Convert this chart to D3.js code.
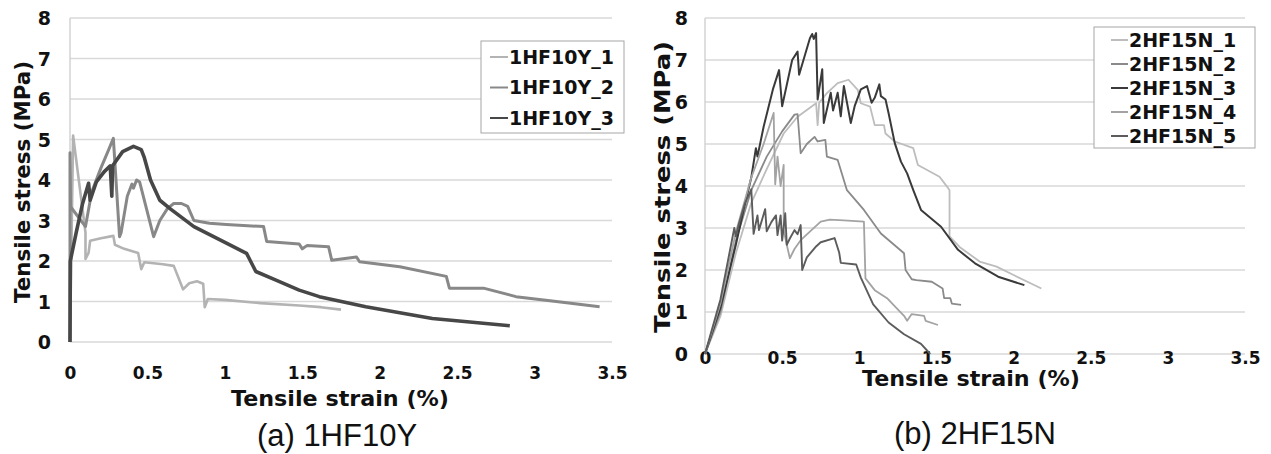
<!DOCTYPE html>
<html>
<head>
<meta charset="utf-8">
<script src="https://cdn.jsdelivr.net/npm/d3@7/dist/d3.min.js"></script>
<style>
  body { margin: 0; background: #fff; }
  svg { display: block; }
  .tick text { font-family: "DejaVu Sans", Verdana, sans-serif; font-weight: bold; fill: #111; }
</style>
</head>
<body>
<svg id="chart" width="1271" height="454"></svg>
<script>
// ---- data: [strain (%), stress (MPa)] ----
var xTicks = [0, 0.5, 1, 1.5, 2, 2.5, 3, 3.5];
var yTicks = [0, 1, 2, 3, 4, 5, 6, 7, 8];

var namesA = ["1HF10Y_1", "1HF10Y_2", "1HF10Y_3"];
var hf10y_1 = [[0,0],[0.02,5.1],[0.07,3.6],[0.1,2.7],[0.1,2.05],[0.12,2.2],[0.13,2.5],[0.2,2.56],[0.28,2.62],[0.29,2.4],[0.35,2.3],
  [0.44,2.2],[0.46,1.8],[0.48,1.97],[0.6,1.92],[0.67,1.88],[0.73,1.3],[0.77,1.45],[0.82,1.5],[0.86,1.44],[0.87,0.86],[0.89,1.06],
  [1.0,1.04],[1.23,0.96],[1.48,0.9],[1.62,0.86],[1.75,0.8]];
var hf10y_2 = [[0,0],[0,4.67],[0.004,3.34],[0.1,2.85],[0.14,3.7],[0.2,4.3],[0.25,4.75],[0.28,5.03],[0.32,2.6],[0.33,2.7],[0.37,3.6],
  [0.4,3.9],[0.41,3.8],[0.43,4.0],[0.45,3.95],[0.54,2.6],[0.58,3.0],[0.63,3.3],[0.67,3.42],[0.72,3.42],[0.76,3.35],[0.8,3.0],
  [0.9,2.93],[1.01,2.9],[1.25,2.85],[1.27,2.48],[1.48,2.42],[1.5,2.3],[1.53,2.38],[1.67,2.35],[1.69,2.02],[1.85,2.1],[1.87,1.98],
  [2.13,1.86],[2.43,1.62],[2.45,1.33],[2.67,1.33],[2.88,1.12],[3.1,1.02],[3.42,0.87]];
var hf10y_3 = [[0,0],[0.002,2.0],[0.04,2.7],[0.08,3.4],[0.12,3.92],[0.13,3.5],[0.17,3.95],[0.22,4.2],[0.26,4.35],[0.27,3.6],
  [0.275,4.35],[0.34,4.7],[0.41,4.83],[0.46,4.75],[0.48,4.55],[0.52,4.0],[0.58,3.5],[0.65,3.28],[0.8,2.85],[1.01,2.44],[1.14,2.19],
  [1.2,1.74],[1.33,1.53],[1.48,1.28],[1.61,1.12],[1.91,0.87],[2.34,0.58],[2.84,0.4]];

var namesB = ["2HF15N_1", "2HF15N_2", "2HF15N_3", "2HF15N_4", "2HF15N_5"];
var hf15n_1 = [[0,0],[0.1,0.9],[0.2,2.4],[0.3,3.6],[0.4,4.4],[0.51,5.25],[0.6,5.65],[0.72,5.97],[0.73,5.45],[0.74,5.98],[0.79,6.21],
  [0.86,6.45],[0.93,6.53],[0.99,6.29],[1.01,5.97],[1.07,5.89],[1.1,5.45],[1.16,5.45],[1.17,5.25],[1.23,5.06],[1.35,4.9],[1.38,4.5],
  [1.52,4.22],[1.57,3.98],[1.585,3.9],[1.585,2.8],[1.65,2.55],[1.78,2.2],[1.89,2.08],[2.0,1.88],[2.18,1.56]];
var hf15n_2 = [[0,0],[0.1,1.0],[0.2,2.7],[0.3,3.9],[0.4,4.7],[0.5,5.3],[0.58,5.7],[0.6,5.71],[0.62,4.78],[0.66,5.0],[0.71,5.17],
  [0.73,5.06],[0.78,5.1],[0.79,4.7],[0.86,4.62],[0.92,3.9],[1.03,3.43],[1.14,2.87],[1.29,2.4],[1.3,2.0],[1.34,1.78],[1.37,1.76],
  [1.47,1.72],[1.54,1.56],[1.55,1.33],[1.59,1.33],[1.6,1.2],[1.66,1.17]];
var hf15n_3 = [[0,0],[0.1,1.1],[0.2,2.6],[0.25,3.43],[0.3,4.2],[0.33,4.9],[0.34,4.7],[0.38,5.41],[0.44,6.3],[0.48,6.76],[0.5,5.9],
  [0.565,7.0],[0.6,7.2],[0.61,6.65],[0.68,7.52],[0.695,7.62],[0.705,7.5],[0.72,7.64],[0.73,6.06],[0.76,6.78],[0.77,5.5],[0.815,6.22],
  [0.83,5.8],[0.86,6.22],[0.88,5.66],[0.9,6.38],[0.945,5.5],[0.97,5.9],[1.01,6.3],[1.05,6.38],[1.08,5.98],[1.1,6.1],[1.13,6.42],
  [1.14,6.14],[1.17,6.06],[1.19,5.73],[1.23,5.02],[1.27,4.58],[1.31,4.3],[1.35,3.9],[1.4,3.43],[1.53,3.03],[1.64,2.48],[1.75,2.16],
  [1.9,1.84],[2.07,1.64]];
var hf15n_4 = [[0,0],[0.1,1.2],[0.2,2.9],[0.3,4.2],[0.38,5.0],[0.445,5.74],[0.455,4.04],[0.47,4.7],[0.49,4.0],[0.51,4.5],[0.51,2.95],
  [0.53,2.6],[0.55,2.28],[0.58,2.5],[0.62,2.71],[0.75,3.15],[0.81,3.2],[0.9,3.18],[1.03,3.15],[1.04,1.8],[1.1,1.52],[1.18,1.33],
  [1.24,1.1],[1.29,0.91],[1.31,0.79],[1.34,0.95],[1.42,0.91],[1.43,0.79],[1.51,0.69]];
var hf15n_5 = [[0,0],[0.1,1.3],[0.19,3.0],[0.2,2.8],[0.22,3.1],[0.26,3.6],[0.3,3.92],[0.315,2.86],[0.34,3.3],[0.35,2.95],[0.39,3.45],
  [0.4,2.92],[0.43,3.14],[0.46,3.3],[0.47,2.83],[0.49,3.3],[0.5,2.7],[0.52,3.35],[0.53,2.6],[0.55,2.75],[0.58,2.95],[0.6,2.85],
  [0.62,3.07],[0.63,2.0],[0.66,2.3],[0.72,2.56],[0.75,2.66],[0.84,2.76],[0.87,2.41],[0.88,2.17],[0.98,2.13],[1.01,1.82],[1.09,1.18],
  [1.19,0.75],[1.29,0.47],[1.4,0.24],[1.46,0]];

var svg = d3.select("#chart");

function drawPanel(p) {
    var x = d3.scaleLinear().domain([0, 3.5]).range([p.left, p.right]);
    var y = d3.scaleLinear().domain([0, 8]).range([p.bottom, p.top]);
    var g = svg.append("g");

    // gridlines
    g.selectAll(".grid").data(yTicks).enter().append("line")
        .attr("x1", p.left).attr("x2", p.right)
        .attr("y1", function(d) { return y(d); })
        .attr("y2", function(d) { return y(d); })
        .attr("stroke", "#d9d9d9").attr("stroke-width", 1.4);
    g.append("line")
        .attr("x1", p.left).attr("x2", p.left)
        .attr("y1", p.top).attr("y2", p.bottom)
        .attr("stroke", "#d0d0d0").attr("stroke-width", 1.4);

    // axes (labels only)
    var ax = g.append("g").attr("transform", "translate(0," + p.xLabelY + ")")
        .call(d3.axisBottom(x).tickValues(xTicks).tickSize(0).tickFormat(function(d) { return d; }));
    ax.select(".domain").remove();
    ax.selectAll("text").attr("font-size", 17).attr("dy", 0);

    var ay = g.append("g").attr("transform", "translate(" + p.yLabelX + ",0)")
        .call(d3.axisLeft(y).tickValues(yTicks).tickSize(0));
    ay.select(".domain").remove();
    ay.selectAll("text").attr("font-size", 19).attr("dy", "0.36em").attr("x", 0);

    // series
    var line = d3.line().x(function(d) { return x(d[0]); }).y(function(d) { return y(d[1]); });
    p.series.forEach(function(s, i) {
        g.append("path").datum(s)
            .attr("d", line)
            .attr("fill", "none")
            .attr("stroke", p.colors[i])
            .attr("stroke-width", p.widths[i])
            .attr("stroke-linejoin", "round");
    });

    // axis titles
    g.append("text")
        .attr("x", (p.xTitle[0])).attr("y", p.xTitle[1])
        .attr("text-anchor", "middle")
        .attr("font-family", "DejaVu Sans, Verdana, sans-serif")
        .attr("font-weight", "bold").attr("font-size", 21).attr("fill", "#111")
        .attr("textLength", p.xTitle[2]).attr("lengthAdjust", "spacingAndGlyphs")
        .text("Tensile strain (%)");
    g.append("text")
        .attr("transform", "translate(" + p.yTitle[0] + "," + p.yTitle[1] + ") rotate(-90)")
        .attr("text-anchor", "middle").attr("dy", "0.36em")
        .attr("font-family", "DejaVu Sans, Verdana, sans-serif")
        .attr("font-weight", "bold").attr("font-size", 21).attr("fill", "#111")
        .attr("textLength", p.yTitle[2]).attr("lengthAdjust", "spacingAndGlyphs")
        .text("Tensile stress (MPa)");

    // caption
    g.append("text")
        .attr("x", p.caption[0]).attr("y", p.caption[1])
        .attr("text-anchor", "middle")
        .attr("font-family", "Liberation Sans, Arial, sans-serif")
        .attr("font-size", 31).attr("fill", "#111")
        .text(p.captionText);

    // legend
    var lg = p.legend;
    g.append("rect")
        .attr("x", lg.x).attr("y", lg.y).attr("width", lg.w).attr("height", lg.h)
        .attr("fill", "#fff").attr("stroke", "#a6a6a6").attr("stroke-width", 1);
    p.names.forEach(function(n, i) {
        var ly = lg.y + lg.first + i * lg.step;
        g.append("line")
            .attr("x1", lg.x + lg.sw0).attr("x2", lg.x + lg.sw1)
            .attr("y1", ly).attr("y2", ly)
            .attr("stroke", p.colors[i]).attr("stroke-width", 2);
        g.append("text")
            .attr("x", lg.x + lg.sw1 + 1).attr("y", ly).attr("dy", "0.36em")
            .attr("font-family", "DejaVu Sans, Verdana, sans-serif")
            .attr("font-weight", "bold").attr("font-size", 19).attr("fill", "#111")
            .text(n);
    });
}

drawPanel({
    left: 70, right: 612, top: 18, bottom: 342,
    xLabelY: 376, yLabelX: 51,
    series: [hf10y_1, hf10y_2, hf10y_3],
    names: namesA,
    colors: ["#b3b3b3", "#888888", "#474747"],
    widths: [2.6, 3, 3.6],
    xTitle: [340, 406, 218],
    yTitle: [22, 182, 242],
    caption: [337, 446],
    captionText: "(a) 1HF10Y",
    legend: { x: 481, y: 41, w: 143, h: 92, first: 16, step: 30.5, sw0: 9, sw1: 27 }
});

drawPanel({
    left: 705, right: 1245, top: 18, bottom: 354,
    xLabelY: 361, yLabelX: 688,
    series: [hf15n_1, hf15n_2, hf15n_3, hf15n_4, hf15n_5],
    names: namesB,
    colors: ["#bdbdbd", "#8a8a8a", "#3a3a3a", "#a3a3a3", "#5c5c5c"],
    widths: [1.8, 1.8, 2, 1.8, 1.9],
    xTitle: [971, 386, 218],
    yTitle: [662, 187, 292],
    caption: [975, 444],
    captionText: "(b) 2HF15N",
    legend: { x: 1094, y: 27, w: 161, h: 121, first: 13, step: 24, sw0: 17, sw1: 34 }
});
</script>
</body>
</html>
